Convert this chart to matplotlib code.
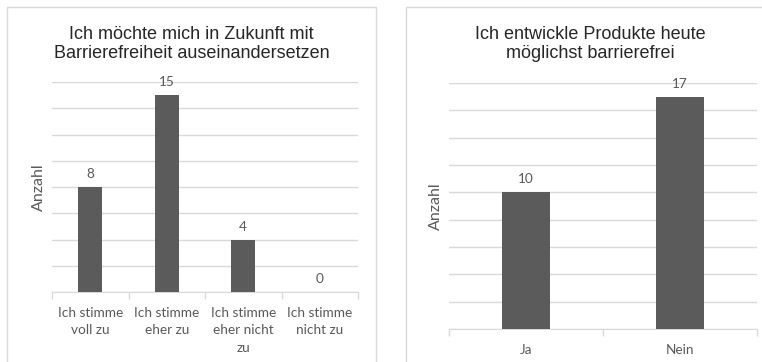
import matplotlib
matplotlib.use("Agg")
import matplotlib.pyplot as plt
from matplotlib.patches import Rectangle
import numpy as np

# data
left_title = "Ich möchte mich in Zukunft mit\nBarrierefreiheit auseinandersetzen"
left_cats = ["Ich stimme\nvoll zu", "Ich stimme\neher zu", "Ich stimme\neher nicht\nzu", "Ich stimme\nnicht zu"]
left_vals = [8, 15, 4, 0]

right_title = "Ich entwickle Produkte heute\nmöglichst barrierefrei"
right_cats = ["Ja", "Nein"]
right_vals = [10, 17]

bar_col = "#5b5b5b"
grid_col = "#d9d9d9"
txt_col = "#595959"
lab_font = "Lato"

fig = plt.figure(figsize=(7.62, 3.62), dpi=100)
W, H = 762, 362

# panel borders
for (x0, x1) in [(7, 376), (406, 775)]:
    fig.patches.append(Rectangle((x0 / W, -0.05), (x1 - x0) / W, 1.05 - 7 / H,
                                 transform=fig.transFigure, fill=False,
                                 edgecolor=grid_col, lw=1))


def draw(ax, cats, vals, ymax, title, title_x):
    x = np.arange(len(cats))
    ax.bar(x, vals, width=0.31, color=bar_col, zorder=3)
    ax.set_xlim(-0.5, len(cats) - 0.5)
    ax.set_ylim(0, ymax)
    ax.set_yticks(np.arange(0, ymax + 1, 2))
    ax.yaxis.grid(True, color=grid_col, lw=1, zorder=0)
    ax.tick_params(axis='y', length=0, labelleft=False)
    ax.set_xticks(x)
    ax.set_xticklabels(cats, fontsize=9.8, color=txt_col, family=lab_font, linespacing=1.55)
    ax.tick_params(axis='x', length=0, pad=10.5)
    # category boundary ticks
    ax.set_xticks(np.arange(-0.5, len(cats)), minor=True)
    ax.tick_params(axis='x', which='minor', length=5, color=grid_col, width=1)
    for s in ['top', 'right', 'left']:
        ax.spines[s].set_visible(False)
    ax.spines['bottom'].set_color(grid_col)
    for xi, v in zip(x, vals):
        ax.annotate(str(v), (xi, v), xytext=(0, 5), textcoords='offset points',
                    ha='center', va='bottom', fontsize=9.8, color=txt_col, family=lab_font)
    ax.set_ylabel("Anzahl", fontsize=11.5, color=txt_col, family=lab_font, labelpad=4)
    fig.text(title_x / W, 1 - 44 / H, title, ha='center', va='center', fontsize=13,
             family="Liberation Sans", color="#262626", linespacing=1.2)


ax1 = fig.add_axes([52 / W, 1 - 292 / H, 306 / W, 210 / H])
draw(ax1, left_cats, left_vals, 16, left_title, 191.5)

ax2 = fig.add_axes([449 / W, 1 - 329 / H, 308 / W, 246 / H])
draw(ax2, right_cats, right_vals, 18, right_title, 590)

fig.savefig("out.png", dpi=100)
